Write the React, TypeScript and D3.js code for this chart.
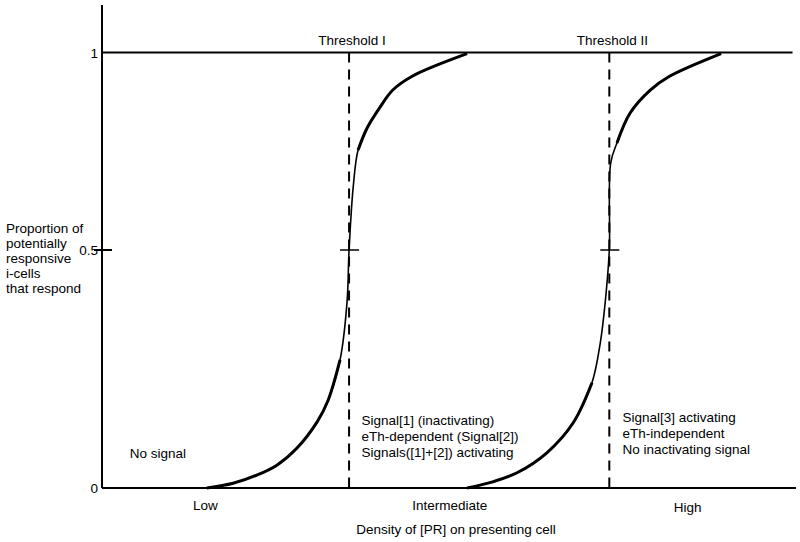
import * as d3 from 'd3';
import { useEffect, useRef } from 'react';

// density (0-100, arbitrary units) vs proportion responding
const curveOne: [number, number][] = [
  [15.1, 0], [18.9, 0.01], [22.3, 0.027], [25.2, 0.048], [28.1, 0.084],
  [31.0, 0.139], [32.6, 0.185], [34.3, 0.269], [35.3, 0.389], [35.6, 0.5],
  [36.2, 0.66], [36.9, 0.753], [38.2, 0.809], [40.0, 0.86], [41.9, 0.905],
  [44.7, 0.94], [52.6, 0.997],
];
const curveTwo: [number, number][] = [
  [52.6, 0], [56.3, 0.013], [59.8, 0.032], [64.1, 0.074], [67.9, 0.137],
  [70.6, 0.221], [71.8, 0.305], [72.5, 0.389], [73.1, 0.5], [73.3, 0.72],
  [74.2, 0.771], [76.1, 0.847], [79.0, 0.905], [81.6, 0.938], [89.2, 0.997],
];
const thresholds = [
  { label: 'Threshold I', density: 35.6 },
  { label: 'Threshold II', density: 73.1 },
];
const yTicks = [0, 0.5, 1];
const yTickLabels = ['0', '0.5', '1'];
const zones = [
  { label: 'Low', density: 14.9 },
  { label: 'Intermediate', density: 50.1 },
  { label: 'High', density: 84.4 },
];
const yTitle = ['Proportion of', 'potentially', 'responsive', 'i-cells', 'that respond'];
const notes = [
  { density: 4.0, proportion: 0.063, lines: ['No signal'] },
  { density: 37.4, proportion: 0.132, lines: ['Signal[1] (inactivating)', 'eTh-dependent (Signal[2])', 'Signals([1]+[2]) activating'] },
  { density: 75.0, proportion: 0.139, lines: ['Signal[3] activating', 'eTh-independent', 'No inactivating signal'] },
];

const W = 800;
const H = 542;
const font = '"Liberation Sans", Arial, sans-serif';
const fs = '13.5px';

export default function App() {
  const ref = useRef<SVGSVGElement>(null);

  useEffect(() => {
    const svg = d3.select(ref.current);
    svg.selectAll('*').remove();

    const x = d3.scaleLinear().domain([0, 100]).range([102, 796]);
    const y = d3.scaleLinear().domain([0, 0.5, 1]).range([488, 250, 52.5]);

    // axes
    svg.append('line')
      .attr('x1', x(0)).attr('x2', x(0))
      .attr('y1', 5).attr('y2', y(0))
      .attr('stroke', '#000').attr('stroke-width', 2);
    svg.append('line')
      .attr('x1', x(0)).attr('x2', x(100))
      .attr('y1', y(0)).attr('y2', y(0))
      .attr('stroke', '#000').attr('stroke-width', 2);
    svg.append('line')
      .attr('x1', x(0)).attr('x2', x(99.5))
      .attr('y1', y(1)).attr('y2', y(1))
      .attr('stroke', '#000').attr('stroke-width', 2);
    svg.append('line')
      .attr('x1', x(0) - 8).attr('x2', x(0) + 10)
      .attr('y1', y(0.5)).attr('y2', y(0.5))
      .attr('stroke', '#000').attr('stroke-width', 2);

    svg.append('g')
      .selectAll('text')
      .data(yTicks)
      .join('text')
      .attr('x', x(0) - 4)
      .attr('y', (d) => y(d) + 5)
      .attr('text-anchor', 'end')
      .style('font-family', font)
      .style('font-size', fs)
      .text((d, i) => yTickLabels[i]);

    // thresholds
    const th = svg.append('g').selectAll('g').data(thresholds).join('g');
    th.append('line')
      .attr('x1', (d) => x(d.density)).attr('x2', (d) => x(d.density))
      .attr('y1', y(1)).attr('y2', y(0))
      .attr('stroke', '#000').attr('stroke-width', 2)
      .attr('stroke-dasharray', '10,7');
    th.append('line')
      .attr('x1', (d) => x(d.density) - 9).attr('x2', (d) => x(d.density) + 10)
      .attr('y1', y(0.5)).attr('y2', y(0.5))
      .attr('stroke', '#000').attr('stroke-width', 1.5);
    th.append('text')
      .attr('x', (d) => x(d.density) + 3)
      .attr('y', y(1) - 8)
      .attr('text-anchor', 'middle')
      .style('font-family', font)
      .style('font-size', fs)
      .text((d) => d.label);

    // curves: thin overall, thick on the tails
    const line = d3.line<[number, number]>()
      .x((d) => x(d[0]))
      .y((d) => y(d[1]))
      .curve(d3.curveCatmullRom.alpha(0.5));
    [curveOne, curveTwo].forEach((c) => {
      svg.append('path').attr('d', line(c)).attr('fill', 'none')
        .attr('stroke', '#000').attr('stroke-width', 1.6);
      svg.append('path').attr('d', line(c.filter((d) => d[1] <= 0.3))).attr('fill', 'none')
        .attr('stroke', '#000').attr('stroke-width', 3);
      svg.append('path').attr('d', line(c.filter((d) => d[1] >= 0.75))).attr('fill', 'none')
        .attr('stroke', '#000').attr('stroke-width', 3);
    });

    // zone labels
    svg.append('g').selectAll('text').data(zones).join('text')
      .attr('x', (d) => x(d.density))
      .attr('y', (d, i) => y(0) + 22 + (i === 2 ? 2 : 0))
      .attr('text-anchor', 'middle')
      .style('font-family', font)
      .style('font-size', fs)
      .text((d) => d.label);

    svg.append('text')
      .attr('x', 456).attr('y', 534)
      .attr('text-anchor', 'middle')
      .style('font-family', font)
      .style('font-size', fs)
      .text('Density of [PR] on presenting cell');

    const yt = svg.append('text')
      .attr('x', 6).attr('y', 233)
      .style('font-family', font)
      .style('font-size', fs);
    yt.selectAll('tspan').data(yTitle).join('tspan')
      .attr('x', 6)
      .attr('dy', (d, i) => (i === 0 ? 0 : 15))
      .text((d) => d);

    notes.forEach((n) => {
      const t = svg.append('text')
        .attr('x', x(n.density)).attr('y', y(n.proportion))
        .style('font-family', font)
        .style('font-size', fs);
      t.selectAll('tspan').data(n.lines).join('tspan')
        .attr('x', x(n.density))
        .attr('dy', (d, i) => (i === 0 ? 0 : 16))
        .text((d) => d);
    });
  }, []);

  return (
    <svg
      ref={ref}
      width={W}
      height={H}
      style={{ position: 'absolute', left: 0, top: 0, background: '#fff' }}
    />
  );
}
